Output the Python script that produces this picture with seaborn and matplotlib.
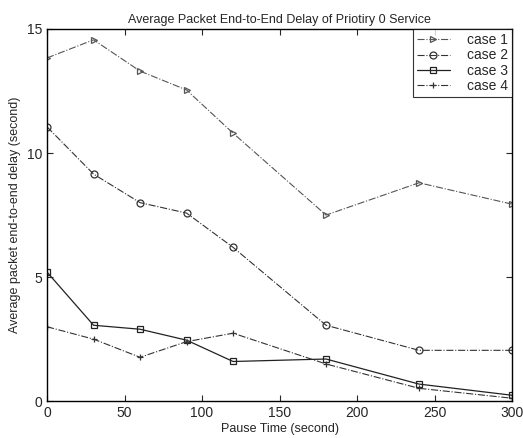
import matplotlib
matplotlib.use("Agg")
import matplotlib.pyplot as plt
import seaborn as sns
import pandas as pd

pause = [0, 30, 60, 90, 120, 180, 240, 300]
case1 = [13.83, 14.56, 13.3, 12.54, 10.8, 7.5, 8.8, 7.94]
case2 = [11.05, 9.15, 8.0, 7.58, 6.2, 3.06, 2.05, 2.05]
case3 = [5.2, 3.06, 2.9, 2.46, 1.6, 1.7, 0.69, 0.24]
case4 = [3.0, 2.5, 1.77, 2.4, 2.74, 1.5, 0.52, 0.12]
labels = ["case 1", "case 2", "case 3", "case 4"]

sns.set_style("ticks")
plt.rcParams['font.family'] = ['Liberation Sans', 'DejaVu Sans']

df = pd.DataFrame({"x": pause * 4,
                   "y": case1 + case2 + case3 + case4,
                   "case": sum([[l] * len(pause) for l in labels], [])})

fig = plt.figure(figsize=(5.23, 4.38), dpi=100)
ax = fig.add_axes([0.09, 0.084, 0.889, 0.85])

styles = {
    "case 1": dict(marker=">", ls="-.", color="#555555", lw=0.8),
    "case 2": dict(marker="o", ls="-.", color="#333333", lw=0.8),
    "case 3": dict(marker="s", ls="-", color="#222222", lw=0.9),
    "case 4": dict(marker="+", ls="-.", color="#333333", lw=0.8),
}
for lab in labels:
    sub = df[df["case"] == lab]
    st = styles[lab]
    sns.lineplot(data=sub, x="x", y="y", ax=ax, label=lab, color=st["color"],
                 linestyle=st["ls"], linewidth=st["lw"], marker=st["marker"],
                 markersize=5, markerfacecolor="none", markeredgecolor=st["color"],
                 markeredgewidth=0.9)

ax.set_xlim(0, 300)
ax.set_ylim(0, 15)
ax.set_xticks([0, 50, 100, 150, 200, 250, 300])
ax.set_yticks([0, 5, 10, 15])
ax.tick_params(direction="in", top=True, right=True, labelsize=10, length=4)
for s in ax.spines.values():
    s.set_visible(True)
    s.set_linewidth(1.0)
    s.set_color("black")
ax.set_xlabel("Pause Time (second)", fontsize=9, labelpad=2)
ax.set_ylabel("Average packet end-to-end delay (second)", fontsize=9, labelpad=4)
ax.set_title("Average Packet End-to-End Delay of Priotiry 0 Service", fontsize=9, pad=4)
leg = ax.legend(loc="upper right", fontsize=10, frameon=True, fancybox=False,
                borderaxespad=0.0, handlelength=2.4, labelspacing=0.1,
                borderpad=0.3, handletextpad=1.2)
leg.get_frame().set_edgecolor("black")
leg.get_frame().set_linewidth(0.8)

fig.savefig("out.png", dpi=100)
